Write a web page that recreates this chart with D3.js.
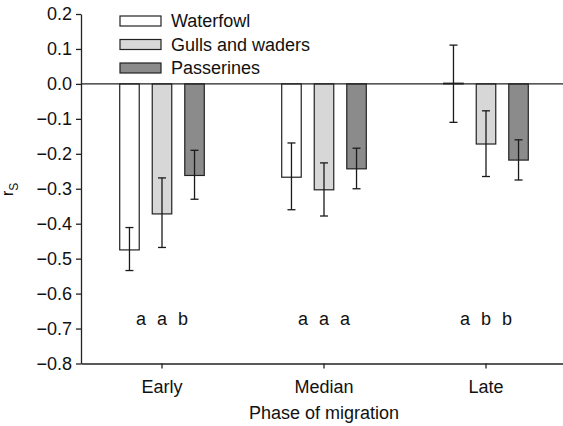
<!DOCTYPE html>
<html><head><meta charset="utf-8">
<script src="https://cdn.jsdelivr.net/npm/d3@7"></script>
<style>
body{margin:0;background:#fff}
text{font-family:"Liberation Sans",Arial,sans-serif;fill:#111}
</style>
</head><body>
<svg id="c" width="563" height="426"></svg>
<script>
// ---- data ----
const phases = ["Early", "Median", "Late"];
const groups = ["Waterfowl", "Gulls and waders", "Passerines"];
const waterfowl = [-0.475, -0.267, 0.002];
const gulls = [-0.372, -0.303, -0.172];
const passerines = [-0.262, -0.243, -0.218];
const waterfowlUpper = [-0.411, -0.169, 0.111];
const waterfowlLower = [-0.534, -0.360, -0.110];
const gullsUpper = [-0.269, -0.226, -0.077];
const gullsLower = [-0.468, -0.378, -0.265];
const passerinesUpper = [-0.190, -0.184, -0.160];
const passerinesLower = [-0.330, -0.300, -0.275];
const letters = [["a","a","b"], ["a","a","a"], ["a","b","b"]];
const yTicks = [0.2, 0.1, 0.0, -0.1, -0.2, -0.3, -0.4, -0.5, -0.6, -0.7, -0.8];

const values = [waterfowl, gulls, passerines];
const uppers = [waterfowlUpper, gullsUpper, passerinesUpper];
const lowers = [waterfowlLower, gullsLower, passerinesLower];
const fills = ["#ffffff", "#d7d7d7", "#8b8b8b"];

const svg = d3.select("#c");
const ink = "#222";

const x0 = d3.scaleBand().domain(phases).range([81, 567]).padding(0);
const x1 = d3.scaleBand().domain(groups).range([0, x0.bandwidth()])
  .paddingInner(0.4).paddingOuter(1.19);
const y = d3.scaleLinear().domain([-0.8, 0.2]).range([363.5, 14]);

const table = [];
phases.forEach((p, pi) => groups.forEach((g, gi) => {
  table.push({phase: p, group: g, gi, pi, v: values[gi][pi], hi: uppers[gi][pi], lo: lowers[gi][pi], letter: letters[pi][gi]});
}));

// bars
svg.append("g").selectAll("rect").data(table).join("rect")
  .attr("x", d => x0(d.phase) + x1(d.group))
  .attr("width", x1.bandwidth())
  .attr("y", d => Math.min(y(d.v), y(0)))
  .attr("height", d => Math.abs(y(d.v) - y(0)))
  .attr("fill", d => fills[d.gi])
  .attr("stroke", ink).attr("stroke-width", 1.2);

// zero line
svg.append("line").attr("x1", 81).attr("x2", 567).attr("y1", y(0)).attr("y2", y(0))
  .attr("stroke", ink).attr("stroke-width", 1.3);

// error bars
const eb = svg.append("g").attr("stroke", "#1a1a1a").attr("stroke-width", 1.3);
table.forEach(d => {
  const cx = x0(d.phase) + x1(d.group) + x1.bandwidth() / 2;
  eb.append("line").attr("x1", cx).attr("x2", cx).attr("y1", y(d.hi)).attr("y2", y(d.lo));
  [d.hi, d.lo].forEach(v => eb.append("line").attr("x1", cx - 4).attr("x2", cx + 4).attr("y1", y(v)).attr("y2", y(v)));
});

// letters
svg.append("g").selectAll("text").data(table).join("text")
  .attr("x", d => x0(d.phase) + x0.bandwidth() / 2 + (d.gi - 1) * 21)
  .attr("y", 325).attr("text-anchor", "middle").attr("font-size", 18)
  .text(d => d.letter);

// axes
const yAxis = svg.append("g").attr("transform", "translate(81,0)")
  .call(d3.axisLeft(y).tickValues(yTicks).tickFormat(d3.format(".1f")).tickSize(5).tickSizeOuter(0).tickPadding(4));
const xAxis = svg.append("g").attr("transform", "translate(0,363.5)")
  .call(d3.axisBottom(x0).tickSize(5).tickSizeOuter(0).tickPadding(12));
[yAxis, xAxis].forEach(a => {
  a.selectAll("path,line").attr("stroke", ink).attr("stroke-width", 1.3);
  a.selectAll("text").attr("font-size", 18).attr("font-family", "Liberation Sans, Arial, sans-serif").attr("fill", "#111");
});

// axis title
svg.append("text").attr("x", x0("Median") + x0.bandwidth() / 2).attr("y", 419)
  .attr("text-anchor", "middle").attr("font-size", 18).text("Phase of migration");

const yl = svg.append("text").attr("transform", "translate(13,196) rotate(-90)").attr("font-size", 16);
yl.append("tspan").text("r");
yl.append("tspan").attr("font-size", 12).attr("dy", 5).text("S");

// legend
const lg = svg.append("g");
groups.forEach((g, i) => {
  const yy = 16 + i * 23.5;
  lg.append("rect").attr("x", 120).attr("y", yy).attr("width", 41).attr("height", 10)
    .attr("fill", fills[i]).attr("stroke", ink).attr("stroke-width", 1.2);
  lg.append("text").attr("x", 171).attr("y", yy + 5).attr("dy", "0.35em").attr("font-size", 18).text(g);
});
</script>
</body></html>
